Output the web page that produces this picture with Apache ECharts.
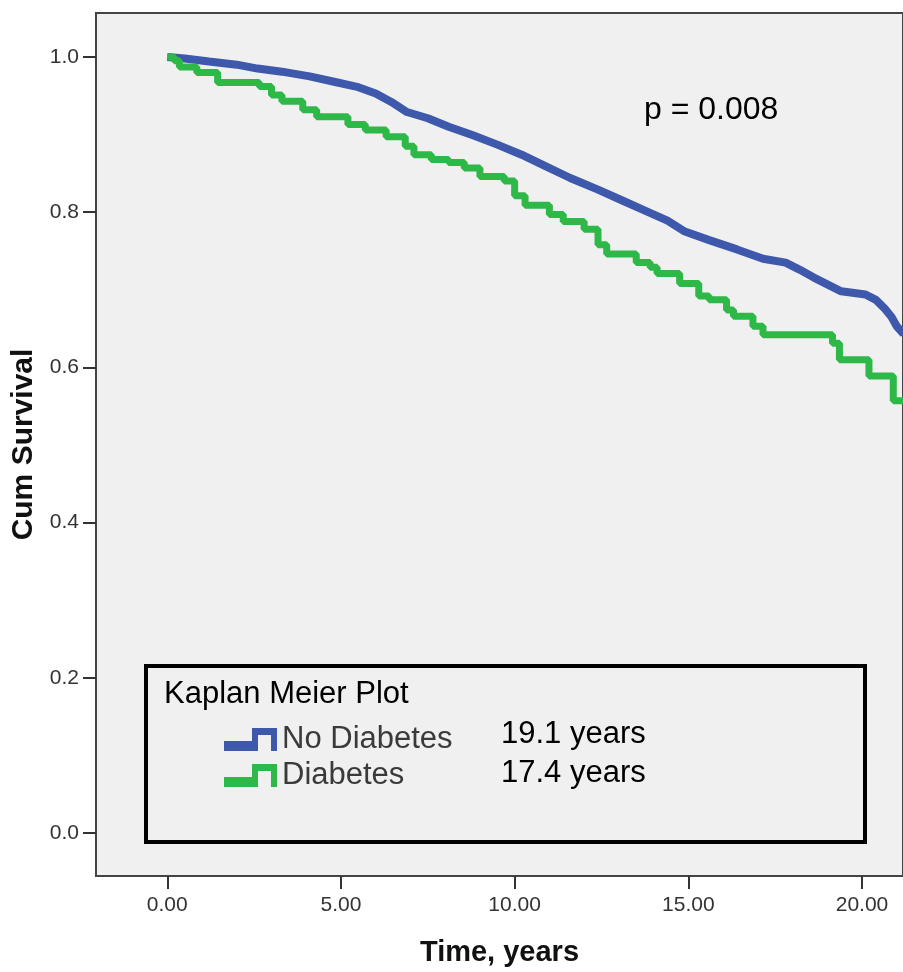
<!DOCTYPE html>
<html>
<head>
<meta charset="utf-8">
<script src="https://cdn.jsdelivr.net/npm/echarts@6/dist/echarts.min.js"></script>
<style>
  html, body { margin: 0; padding: 0; background: #fff; }
  #chart { width: 903px; height: 972px; }
</style>
</head>
<body>
<div id="chart"></div>
<script>
let chart = echarts.init(document.querySelector('#chart'))

// tick positions
const xTicks = [0, 5, 10, 15, 20]
const yTicks = [0, 0.2, 0.4, 0.6, 0.8, 1.0]

// No Diabetes (dense steps, read as a curve)
const noDiabetes = [
    [0, 1.0], [0.5, 0.998], [1.2, 0.994], [2.0, 0.990], [2.6, 0.985], [3.3, 0.981],
    [4.1, 0.975], [4.8, 0.968], [5.5, 0.961], [6.0, 0.953], [6.45, 0.942], [6.9, 0.929],
    [7.5, 0.921], [8.1, 0.910], [8.8, 0.899], [9.5, 0.887], [10.2, 0.874], [10.9, 0.859],
    [11.6, 0.844], [12.4, 0.829], [13.1, 0.815], [13.8, 0.801], [14.4, 0.789], [14.9, 0.775],
    [15.6, 0.764], [16.4, 0.752], [17.15, 0.740], [17.8, 0.735], [18.2, 0.726], [18.6, 0.716],
    [19.0, 0.707], [19.4, 0.698], [20.1, 0.694], [20.4, 0.687], [20.67, 0.675], [20.85, 0.665],
    [21.0, 0.653], [21.2, 0.643]
]

// Diabetes (step function)
const diabetes = [
    [0, 1.0], [0.2, 0.995], [0.35, 0.987], [0.85, 0.980], [1.45, 0.967], [2.65, 0.962],
    [3.0, 0.951], [3.3, 0.943], [3.9, 0.932], [4.3, 0.923], [5.2, 0.913], [5.7, 0.906],
    [6.3, 0.897], [6.85, 0.885], [7.1, 0.874], [7.6, 0.868], [8.1, 0.864], [8.55, 0.857],
    [9.0, 0.846], [9.7, 0.840], [10.0, 0.821], [10.3, 0.809], [11.0, 0.797], [11.4, 0.788],
    [12.0, 0.778], [12.4, 0.758], [12.65, 0.746], [13.5, 0.735], [13.9, 0.729], [14.1, 0.721],
    [14.75, 0.708], [15.3, 0.692], [15.6, 0.687], [16.1, 0.674], [16.3, 0.666], [16.86, 0.653],
    [17.15, 0.642], [19.15, 0.631], [19.35, 0.610], [20.2, 0.589], [20.9, 0.557], [21.3, 0.557]
]

const medians = ['19.1 years', '17.4 years']

const blue = '#3e58ac'
const green = '#2eb848'
const font = 'Liberation Sans, Arial, sans-serif'
const stepIcon = 'path://M0,13 H28 V0 H53 V23 H47 V7 H34 V23 H0 Z'

chart.setOption({
    animation: false,
    grid: {
        left: 96,
        top: 13,
        right: -5,
        bottom: 94,
        show: true,
        backgroundColor: '#f0f0f0',
        borderColor: '#444',
        borderWidth: 2
    },
    legend: {
        orient: 'vertical',
        left: 219,
        top: 719,
        itemWidth: 53,
        itemHeight: 23,
        itemGap: 5,
        icon: stepIcon,
        textStyle: {fontFamily: font, fontSize: 31, color: '#3a3a3a'},
        data: ['No Diabetes', 'Diabetes']
    },
    xAxis: {
        type: 'value',
        min: -2.052,
        max: 21.18,
        name: 'Time, years',
        nameLocation: 'middle',
        nameGap: 62,
        nameTextStyle: {fontFamily: font, fontSize: 29, fontWeight: 'bold', color: '#111'},
        axisLine: {onZero: false, lineStyle: {color: '#444', width: 2}},
        axisTick: {customValues: xTicks, length: 13, lineStyle: {color: '#333', width: 2}},
        axisLabel: {
            customValues: xTicks,
            margin: 19,
            fontFamily: font,
            fontSize: 21,
            color: '#333',
            formatter: v => v.toFixed(2)
        },
        splitLine: {show: false}
    },
    yAxis: {
        type: 'value',
        min: -0.0553,
        max: 1.0566,
        name: 'Cum Survival',
        nameLocation: 'middle',
        nameGap: 54,
        nameTextStyle: {fontFamily: font, fontSize: 30, fontWeight: 'bold', color: '#111'},
        axisLine: {onZero: false, lineStyle: {color: '#444', width: 2}},
        axisTick: {customValues: yTicks, length: 13, lineStyle: {color: '#333', width: 2}},
        axisLabel: {
            customValues: yTicks,
            margin: 17,
            fontFamily: font,
            fontSize: 21,
            color: '#333',
            formatter: v => v.toFixed(1)
        },
        splitLine: {show: false}
    },
    series: [
        {
            name: 'No Diabetes',
            type: 'line',
            data: noDiabetes,
            showSymbol: false,
            color: blue,
            lineStyle: {width: 8, color: blue}
        },
        {
            name: 'Diabetes',
            type: 'line',
            step: 'end',
            data: diabetes,
            showSymbol: false,
            color: green,
            lineStyle: {width: 7, color: green}
        }
    ],
    graphic: [
        {
            type: 'rect',
            shape: {x: 146, y: 666, width: 719, height: 176},
            style: {fill: 'none', stroke: '#000', lineWidth: 4},
            z: 10
        },
        {
            type: 'text',
            x: 164, y: 694,
            style: {text: 'Kaplan Meier Plot', font: '31px ' + font, fill: '#000', verticalAlign: 'middle'},
            z: 10
        },
        {
            type: 'text',
            x: 501, y: 734,
            style: {text: medians[0], font: '31px ' + font, fill: '#000', verticalAlign: 'middle'},
            z: 10
        },
        {
            type: 'text',
            x: 501, y: 773,
            style: {text: medians[1], font: '31px ' + font, fill: '#000', verticalAlign: 'middle'},
            z: 10
        },
        {
            type: 'text',
            x: 644, y: 110,
            style: {text: 'p = 0.008', font: '32px ' + font, fill: '#000', verticalAlign: 'middle'},
            z: 10
        }
    ]
})
</script>
</body>
</html>
